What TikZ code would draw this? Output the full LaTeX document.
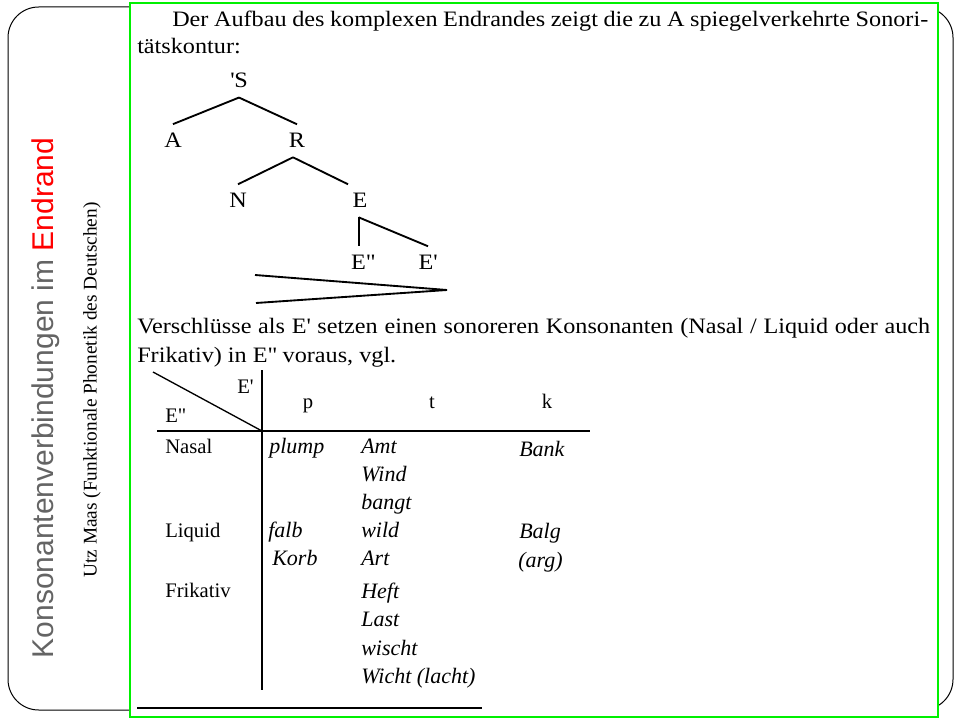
\documentclass[tikz,border=0pt]{standalone}
\usepackage{fontspec}
\setmainfont{Liberation Serif}
\newfontfamily\scanfont[FakeStretch=1.1]{Liberation Serif}
\newfontfamily\titlefont{Liberation Sans}
\definecolor{framegreen}{RGB}{0,240,0}
\definecolor{titlegray}{RGB}{100,100,100}
\begin{document}
\begin{tikzpicture}[x=0.75pt,y=-0.75pt,
  bodytext/.style={font=\fontsize{16.5}{19}\scanfont, inner sep=0pt, anchor=base west},
  treenode/.style={font=\fontsize{16.5}{19}\scanfont, inner sep=0pt, outer sep=7pt, anchor=base},
  rowlabel/.style={font=\fontsize{15.5}{18}\selectfont, inner sep=0pt, anchor=base west},
  wordit/.style={font=\fontsize{16.5}{19}\selectfont\itshape, inner sep=0pt, anchor=base west},
  rule/.style={line width=1pt},
  treeline/.style={line width=1.4pt}]
\useasboundingbox (0,0) rectangle (960,720);
% outer rounded frame
\draw[line width=0.75pt, rounded corners=23pt] (8,7) rectangle (953,710);
% green content box
\draw[framegreen, line width=1.5pt, fill=white] (130,3) rectangle (938,717);
% vertical titles
\node[rotate=90, inner sep=0pt, font=\fontsize{22.5}{27}\titlefont, text=titlegray] (title) at (46,398)
  {Konsonantenverbindungen im \textcolor{red}{Endrand}};
\node[rotate=90, inner sep=0pt, font=\fontsize{14.5}{17}\selectfont] (subtitle) at (92,390)
  {Utz Maas (Funktionale Phonetik des Deutschen)};
% paragraph 1
\node[bodytext] (p1a) at (172,27) {\makebox[567pt][s]{Der Aufbau des komplexen Endrandes zeigt die zu A spiegelverkehrte Sonori-}};
\node[bodytext] (p1b) at (137,54) {tätskontur:};
% tree
\node[treenode] (S) at (239,88) {\textquotesingle S};
\node[treenode] (A) at (173,148) {A};
\node[treenode] (R) at (297,148) {R};
\node[treenode] (N) at (238,208) {N};
\node[treenode] (E) at (360,208) {E};
\node[treenode] (E2) at (363,270) {E\textquotedbl};
\node[treenode] (E1) at (428,270) {E\textquotesingle};
\draw[treeline] (S.south) -- (A.north);
\draw[treeline] (S.south) -- (R.north);
\draw[treeline] ([xshift=-3pt]R.south) -- (N.north);
\draw[treeline] ([xshift=-3pt]R.south) -- ([xshift=-9pt]E.north);
\draw[treeline] ([xshift=-1pt]E.south) -- ([xshift=-1pt]E.south |- E2.north);
\draw[treeline] ([xshift=-1pt]E.south) -- (E1.north);
% sonority wedge
\coordinate (wtip) at (447,290);
\coordinate (wtop) at (255,275);
\coordinate (wbot) at (256,303);
\draw[treeline] (wtop) -- (wtip) -- (wbot);
% paragraph 2
\node[bodytext] (p2a) at (137,333) {\makebox[594.75pt][s]{Verschlüsse als E\textquotesingle{} setzen einen sonoreren Konsonanten (Nasal / Liquid oder auch}};
\node[bodytext] (p2b) at (137,362) {Frikativ) in E\textquotedbl{} voraus, vgl.};
% table
\coordinate (diagA) at (153,372);
\coordinate (vtop) at (262,370);
\coordinate (vbot) at (262,690);
\coordinate (hleft) at (157,431);
\coordinate (hright) at (590,431);
\coordinate (hcross) at (262,431);
\draw[rule] (vtop) -- (vbot);
\draw[rule] (hleft) -- (hright);
\draw[line width=1pt] (diagA) -- (hcross);
\node[rowlabel] (hE1) at (237,393) {E\textquotesingle};
\node[rowlabel] (hE2) at (165,422) {E\textquotedbl};
\node[rowlabel, anchor=base] (hp) at (308,408) {p};
\node[rowlabel, anchor=base] (ht) at (432,408) {t};
\node[rowlabel, anchor=base] (hk) at (547,408) {k};
\node[rowlabel] (nasal) at (165,453) {Nasal};
\node[rowlabel] (liquid) at (165,537) {Liquid};
\node[rowlabel] (frik) at (165,597) {Frikativ};
\node[wordit] (w1) at (269,453) {plump};
\node[wordit] (w2) at (361,453) {Amt};
\node[wordit] (w3) at (361,481) {Wind};
\node[wordit] (w4) at (361,509) {bangt};
\node[wordit] (w5) at (519,456) {Bank};
\node[wordit] (w6) at (268,537) {falb};
\node[wordit] (w7) at (272,565) {Korb};
\node[wordit] (w8) at (361,537) {wild};
\node[wordit] (w9) at (361,565) {Art};
\node[wordit] (w10) at (519,538) {Balg};
\node[wordit] (w11) at (518,567) {(arg)};
\node[wordit] (w12) at (361,598) {Heft};
\node[wordit] (w13) at (361,626) {Last};
\node[wordit] (w14) at (361,655) {wischt};
\node[wordit] (w15) at (361,683) {Wicht (lacht)};
% bottom rule
\coordinate (bl) at (137,708);
\coordinate (br) at (482,708);
\draw[rule] (bl) -- (br);
\end{tikzpicture}
\end{document}
